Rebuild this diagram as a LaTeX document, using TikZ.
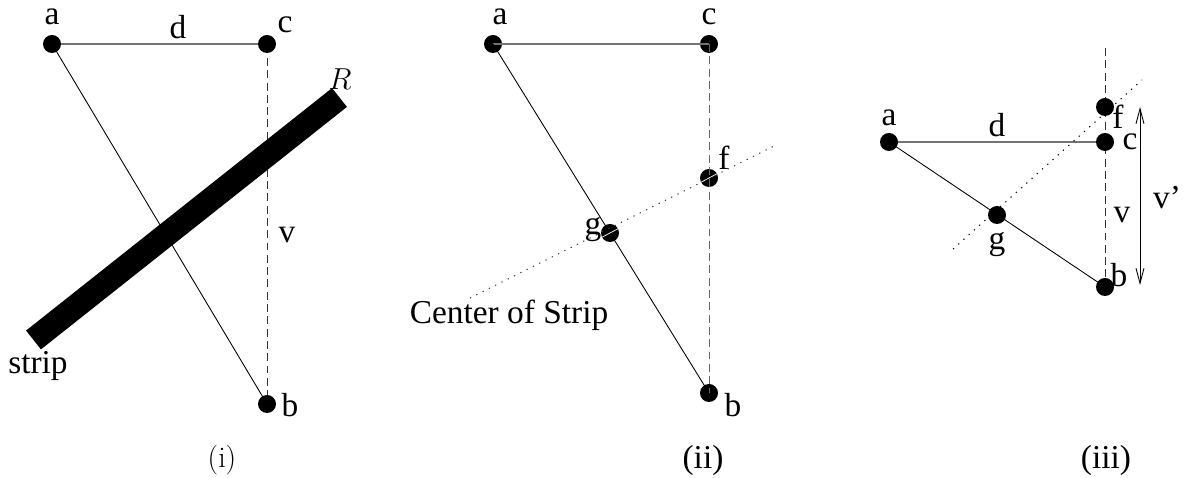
\documentclass[tikz,border=0pt]{standalone}
\usepackage{fontspec}
\newfontfamily\timesfont{Liberation Serif}
\usetikzlibrary{arrows.meta,calc}
\tikzset{
  lbl/.style={font=\timesfont\fontsize{19}{22}\selectfont, inner sep=0pt},
  edgeac/.style={black!55, line width=0.7pt},
  edgeab/.style={black, line width=0.5pt},
  vdash/.style={black!80, line width=0.5pt, dash pattern=on 4.5pt off 2.5pt},
  stripctr/.style={line width=0.6pt, dash pattern=on 0.7pt off 3.3pt},
}

\begin{document}
\begin{tikzpicture}
\useasboundingbox (0,0) rectangle (23.78,9.56);

% (i)
\coordinate (ia) at (1.04,8.68);
\coordinate (ic) at (5.34,8.68);
\coordinate (ib) at (5.34,1.48);
\coordinate (icv) at (5.34,8.40);
\coordinate (isl) at (0.67,2.76);
\coordinate (isr) at (6.79,7.61);

\draw[edgeac] (ia) -- (ic);
\draw[edgeab] (ia) -- (ib);
\draw[vdash] (icv) -- (ib);
\draw[line width=0.48cm] (isl) -- (isr);
\foreach \p in {ia,ic,ib} \fill (\p) circle (0.18);

\node[lbl] (lia) at (1.04,9.22) {a};
\node[lbl] (lid) at (3.56,9.02) {d};
\node[lbl] (lic) at (5.70,9.06) {c};
\node[inner sep=0pt, font=\fontsize{16}{19}\selectfont] (liR) at (6.80,7.98) {$R$};
\node[lbl] (liv) at (5.74,4.86) {v};
\node[lbl] (listrip) at (0.76,2.24) {strip};
\node[lbl] (lib) at (5.80,1.46) {b};
\node[inner sep=0pt, font=\fontsize{17}{20}\selectfont] (cap1) at (4.44,0.36) {(i)};

% (ii)
\coordinate (iia) at (9.86,8.68);
\coordinate (iic) at (14.18,8.68);
\coordinate (iib) at (14.18,1.70);
\coordinate (iif) at (14.18,6.00);
\coordinate (iig) at (12.20,4.90);
\coordinate (iisl) at (9.40,3.60);
\coordinate (iisr) at (15.56,6.68);

\foreach \p in {iia,iic,iib,iif,iig} \fill (\p) circle (0.18);
\draw[edgeac] (iia) -- (iic);
\draw[edgeab] (iia) -- (iib);
\draw[vdash, black!60] (iic) -- (iib);
\draw[stripctr, black!80] (iisl) -- (iisr);
\draw[white, line width=0.4pt] ($(iig)+(-0.17,-0.09)$) -- ($(iig)+(0.17,0.09)$);
\draw[white, line width=0.4pt] ($(iif)+(-0.17,-0.09)$) -- ($(iif)+(0.17,0.09)$);

\node[lbl] (liia) at (10.00,9.22) {a};
\node[lbl] (liic) at (14.18,9.22) {c};
\node[lbl] (liif) at (14.48,6.40) {f};
\node[lbl] (liig) at (11.86,4.96) {g};
\node[lbl] (liib) at (14.66,1.46) {b};
\node[lbl] (liics) at (10.18,3.26) {Center of Strip};
\node[lbl] (cap2) at (14.06,0.36) {(ii)};

% (iii)
\coordinate (iiia) at (17.78,6.72);
\coordinate (iiic) at (22.10,6.72);
\coordinate (iiif) at (22.10,7.42);
\coordinate (iiig) at (19.94,5.26);
\coordinate (iiib) at (22.10,3.82);
\coordinate (iiitop) at (22.10,8.60);
\coordinate (iiisl) at (19.06,4.58);
\coordinate (iiisr) at (22.84,7.96);
\coordinate (iiiut) at (22.80,7.42);
\coordinate (iiiub) at (22.80,3.86);

\draw[edgeac] (iiia) -- (iiic);
\draw[edgeab] (iiia) -- (iiib);
\draw[vdash] (iiitop) -- (iiib);
\draw[stripctr] (iiisl) -- (iiisr);
\draw[edgeab, {Straight Barb[length=0.3cm,width=0.16cm]}-{Straight Barb[length=0.3cm,width=0.16cm]}] (iiiut) -- (iiiub);
\foreach \p in {iiia,iiic,iiif,iiig,iiib} \fill (\p) circle (0.18);

\node[lbl] (liiia) at (17.78,7.20) {a};
\node[lbl] (liiid) at (19.94,7.06) {d};
\node[lbl] (liiic) at (22.60,6.72) {c};
\node[lbl] (liiif) at (22.36,7.22) {f};
\node[lbl] (liiig) at (19.94,4.66) {g};
\node[lbl] (liiiv) at (22.44,5.26) {v};
\node[lbl] (liiib) at (22.38,4.06) {b};
\node[lbl] (liiivp) at (23.34,5.60) {v’};
\node[lbl] (cap3) at (22.12,0.36) {(iii)};
\end{tikzpicture}
\end{document}
